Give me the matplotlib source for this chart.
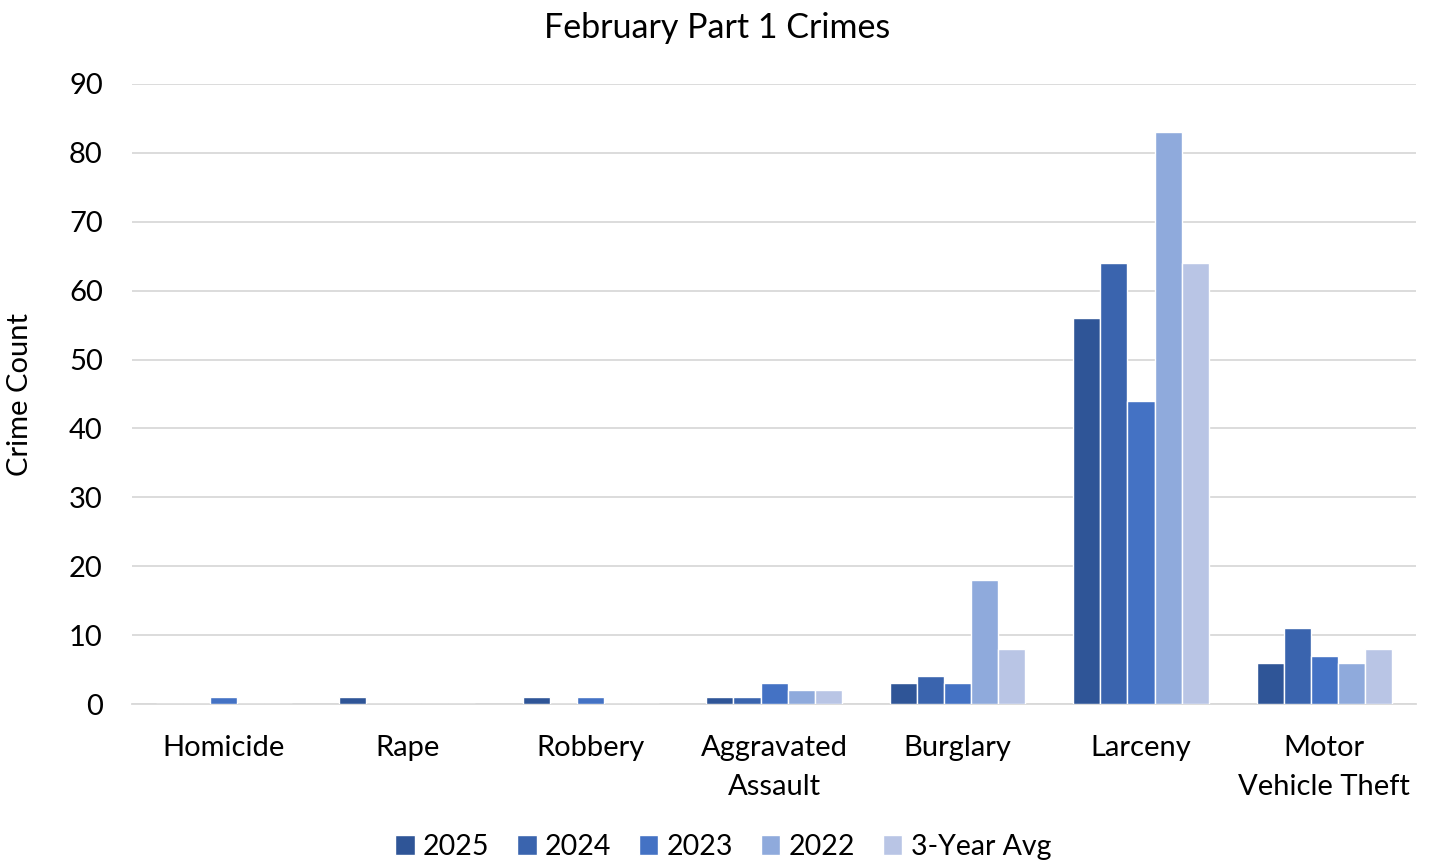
import numpy as np
import matplotlib.pyplot as plt

plt.rcParams['font.family'] = ['Lato', 'DejaVu Sans']

# data
categories = ['Homicide', 'Rape', 'Robbery', 'Aggravated\nAssault', 'Burglary',
              'Larceny', 'Motor\nVehicle Theft']
series_names = ['2025', '2024', '2023', '2022', '3-Year Avg']
v2025 = [0, 1, 1, 1, 3, 56, 6]
v2024 = [0, 0, 0, 1, 4, 64, 11]
v2023 = [1, 0, 1, 3, 3, 44, 7]
v2022 = [0, 0, 0, 2, 18, 83, 6]
avg3 = [0, 0, 0, 2, 8, 64, 8]
colors = ['#2F5597', '#3A64AE', '#4472C4', '#8FAADC', '#B9C5E5']

fig = plt.figure(figsize=(14.29, 8.63), dpi=100)
ax = fig.add_axes([0.0924, 0.1842, 0.8986, 0.7185])

x = np.arange(len(categories))
width = 0.148
allvals = [v2025, v2024, v2023, v2022, avg3]
for i, vals in enumerate(allvals):
    ax.bar(x + (i - 2) * width, vals, width, color=colors[i], label=series_names[i],
           edgecolor='white', linewidth=1, zorder=3)

ax.set_xlim(-0.5, len(categories) - 0.5)
ax.set_ylim(0, 90)
ax.set_yticks(range(0, 91, 10))
ax.grid(axis='y', color='#D9D9D9', linewidth=1.3, zorder=0)
for s in ['top', 'right', 'left']:
    ax.spines[s].set_visible(False)
ax.spines['bottom'].set_color('#D9D9D9')
ax.spines['bottom'].set_linewidth(1.3)
ax.tick_params(axis='both', length=0, labelsize=21)
ax.tick_params(axis='y', pad=21)
ax.tick_params(axis='x', pad=22)
ax.set_xticks(x)
ax.set_xticklabels(categories, linespacing=1.62)
ax.set_ylabel('Crime Count', fontsize=21)
ax.yaxis.set_label_coords(-0.077, 0.5)

fig.text(0.502, 0.968, 'February Part 1 Crimes', fontsize=24.5, ha='center', va='center')

fig.legend(loc='center', ncol=5, frameon=False, fontsize=20.5,
           bbox_to_anchor=(0.506, 0.0185), handlelength=0.7, handleheight=0.7,
           handletextpad=0.3, columnspacing=0.95)

fig.savefig('out.png', dpi=100)
